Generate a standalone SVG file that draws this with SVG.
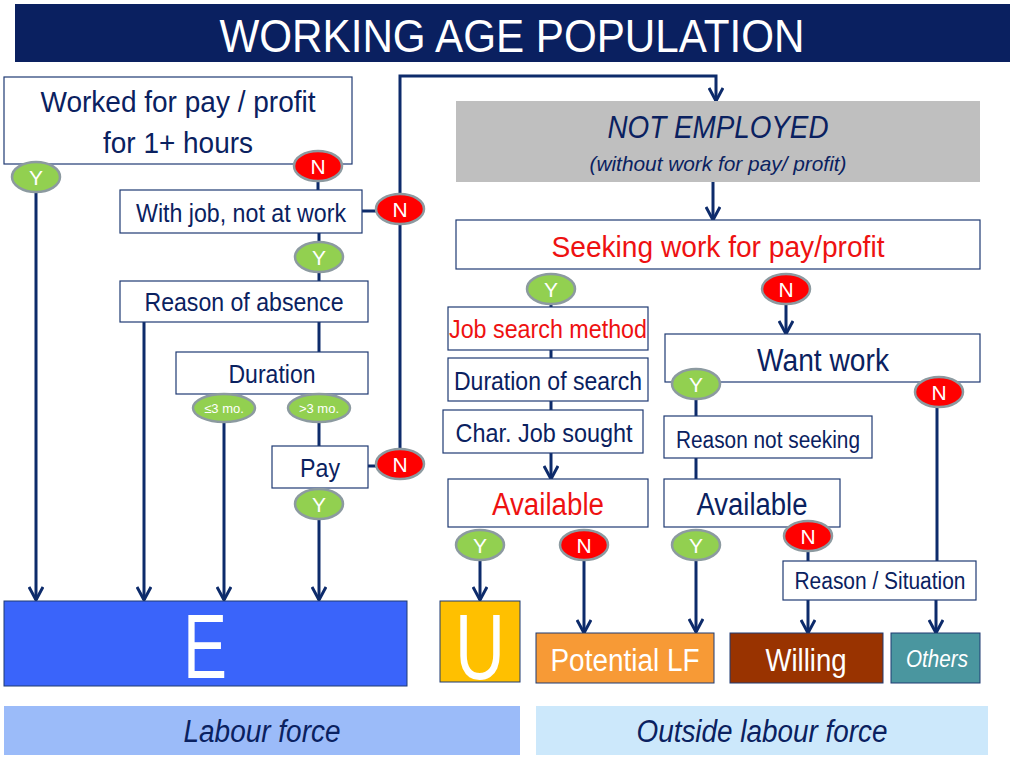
<svg xmlns="http://www.w3.org/2000/svg" width="1024" height="768" viewBox="0 0 1024 768">
<defs>
<marker id="arr" viewBox="0 0 16 16" refX="15" refY="8" markerWidth="16" markerHeight="16" orient="auto" markerUnits="userSpaceOnUse">
<path d="M2,1 L15,8 L2,15" fill="none" stroke="#0d2b6b" stroke-width="3"/>
</marker>
<style>
text{font-family:"Liberation Sans Narrow","Liberation Sans",Arial,sans-serif;text-anchor:middle}
.box{fill:#fff;stroke:#1f3a73;stroke-width:1.2}
.t{fill:#0a2160}
.r{fill:#ee1111}
.w{fill:#fff}
.it{font-style:italic}
.yes{fill:#92d050;stroke:#8c9aa0;stroke-width:2.5}
.no{fill:#ff0000;stroke:#8c9aa0;stroke-width:2.5}
.yn{fill:#fff;font-size:21px}
.ln{fill:none;stroke:#0d2b6b;stroke-width:3}
.ar{fill:none;stroke:#0d2b6b;stroke-width:3;marker-end:url(#arr)}
</style>
</defs>
<rect width="1024" height="768" fill="#fff"/>

<g id="title">
<rect x="15" y="4" width="995" height="58" fill="#0a2060"/>
<text x="512" y="52" class="w" font-size="46" textLength="585" lengthAdjust="spacingAndGlyphs">WORKING AGE POPULATION</text>
</g>

<g id="connectors">
<line class="ar" x1="36" y1="193" x2="36" y2="600"/>
<line class="ln" x1="318" y1="181" x2="318" y2="190"/>
<line class="ln" x1="362" y1="211" x2="376" y2="211"/>
<line class="ln" x1="319" y1="233" x2="319" y2="242"/>
<line class="ln" x1="319" y1="272" x2="319" y2="281"/>
<line class="ar" x1="144" y1="322" x2="144" y2="600"/>
<line class="ln" x1="319" y1="322" x2="319" y2="352"/>
<line class="ar" x1="224" y1="422" x2="224" y2="600"/>
<line class="ln" x1="319" y1="422" x2="319" y2="446"/>
<line class="ln" x1="368" y1="466" x2="376" y2="466"/>
<line class="ar" x1="319" y1="519" x2="319" y2="600"/>
<polyline class="ar" points="400,449 400,76 716,76 716,101"/>
<line class="ar" x1="713" y1="182" x2="713" y2="220"/>
<line class="ln" x1="551" y1="304" x2="551" y2="307"/>
<line class="ln" x1="551" y1="350" x2="551" y2="358"/>
<line class="ln" x1="551" y1="401" x2="551" y2="410"/>
<line class="ar" x1="551" y1="453" x2="551" y2="479"/>
<line class="ar" x1="480" y1="560" x2="480" y2="600"/>
<line class="ar" x1="584" y1="560" x2="584" y2="633"/>
<line class="ar" x1="786" y1="304" x2="786" y2="334"/>
<line class="ln" x1="696" y1="399" x2="696" y2="416"/>
<line class="ln" x1="696" y1="458" x2="696" y2="479"/>
<line class="ar" x1="696" y1="560" x2="696" y2="632"/>
<line class="ln" x1="808" y1="552" x2="808" y2="561"/>
<line class="ln" x1="937" y1="407" x2="937" y2="561"/>
<line class="ar" x1="808" y1="600" x2="808" y2="633"/>
<line class="ar" x1="936" y1="600" x2="936" y2="633"/>
</g>

<g id="worked">
<rect class="box" x="4" y="77" width="348" height="87"/>
<text class="t" x="178" y="112" font-size="30" textLength="275" lengthAdjust="spacingAndGlyphs">Worked for pay / profit</text>
<text class="t" x="178" y="153" font-size="30" textLength="150" lengthAdjust="spacingAndGlyphs">for 1+ hours</text>
</g>
<g id="y1"><ellipse class="yes" cx="36" cy="177" rx="24" ry="15"/><text class="yn" x="36" y="185">Y</text></g>
<g id="n1"><ellipse class="no" cx="318" cy="166" rx="24" ry="15"/><text class="yn" x="318" y="174">N</text></g>

<g id="withjob">
<rect class="box" x="120" y="190" width="242" height="43"/>
<text class="t" x="241" y="222" font-size="26" textLength="210" lengthAdjust="spacingAndGlyphs">With job, not at work</text>
</g>
<g id="n2"><ellipse class="no" cx="400" cy="209" rx="24" ry="15"/><text class="yn" x="400" y="217">N</text></g>
<g id="y2"><ellipse class="yes" cx="319" cy="257" rx="24" ry="15"/><text class="yn" x="319" y="265">Y</text></g>

<g id="reason">
<rect class="box" x="120" y="281" width="248" height="41"/>
<text class="t" x="244" y="311" font-size="26" textLength="199" lengthAdjust="spacingAndGlyphs">Reason of absence</text>
</g>

<g id="duration">
<rect class="box" x="176" y="352" width="192" height="42"/>
<text class="t" x="272" y="383" font-size="26" textLength="87" lengthAdjust="spacingAndGlyphs">Duration</text>
</g>
<g id="le3"><ellipse class="yes" cx="224" cy="408" rx="31" ry="14"/><text class="w" x="224" y="413" font-size="13">≤3 mo.</text></g>
<g id="gt3"><ellipse class="yes" cx="319" cy="408" rx="31" ry="14"/><text class="w" x="319" y="413" font-size="13">&gt;3 mo.</text></g>

<g id="pay">
<rect class="box" x="272" y="446" width="96" height="42"/>
<text class="t" x="320" y="477" font-size="26" textLength="40" lengthAdjust="spacingAndGlyphs">Pay</text>
</g>
<g id="n3"><ellipse class="no" cx="400" cy="464" rx="24" ry="15"/><text class="yn" x="400" y="472">N</text></g>
<g id="y3"><ellipse class="yes" cx="319" cy="504" rx="24" ry="15"/><text class="yn" x="319" y="512">Y</text></g>

<g id="notemployed">
<rect x="456" y="101" width="524" height="81" fill="#bfbfbf"/>
<text class="t it" x="718" y="138" font-size="31" textLength="221" lengthAdjust="spacingAndGlyphs">NOT EMPLOYED</text>
<text class="t it" x="718" y="171" font-size="21" textLength="257" lengthAdjust="spacingAndGlyphs">(without work for pay/ profit)</text>
</g>

<g id="seeking">
<rect class="box" x="456" y="220" width="524" height="49"/>
<text class="r" x="718" y="257" font-size="30" textLength="333" lengthAdjust="spacingAndGlyphs">Seeking work for pay/profit</text>
</g>
<g id="y4"><ellipse class="yes" cx="551" cy="289" rx="24" ry="15"/><text class="yn" x="551" y="297">Y</text></g>
<g id="n4"><ellipse class="no" cx="786" cy="289" rx="24" ry="15"/><text class="yn" x="786" y="297">N</text></g>

<g id="jobsearch">
<rect class="box" x="448" y="307" width="200" height="43"/>
<text class="r" x="548" y="338" font-size="26" textLength="198" lengthAdjust="spacingAndGlyphs">Job search method</text>
</g>
<g id="durationsearch">
<rect class="box" x="448" y="358" width="200" height="43"/>
<text class="t" x="548" y="390" font-size="26" textLength="188" lengthAdjust="spacingAndGlyphs">Duration of search</text>
</g>
<g id="charjob">
<rect class="box" x="443" y="410" width="200" height="43"/>
<text class="t" x="544" y="442" font-size="26" textLength="177" lengthAdjust="spacingAndGlyphs">Char. Job sought</text>
</g>

<g id="available1">
<rect class="box" x="448" y="479" width="200" height="48"/>
<text class="r" x="548" y="515" font-size="31" textLength="112" lengthAdjust="spacingAndGlyphs">Available</text>
</g>
<g id="y5"><ellipse class="yes" cx="480" cy="545" rx="24" ry="15"/><text class="yn" x="480" y="553">Y</text></g>
<g id="n5"><ellipse class="no" cx="584" cy="545" rx="24" ry="15"/><text class="yn" x="584" y="553">N</text></g>

<g id="wantwork">
<rect class="box" x="665" y="334" width="315" height="48"/>
<text class="t" x="823" y="371" font-size="31" textLength="132" lengthAdjust="spacingAndGlyphs">Want work</text>
</g>
<g id="y6"><ellipse class="yes" cx="696" cy="384" rx="24" ry="15"/><text class="yn" x="696" y="392">Y</text></g>
<g id="n6"><ellipse class="no" cx="939" cy="392" rx="24" ry="15"/><text class="yn" x="939" y="400">N</text></g>

<g id="reasonnot">
<rect class="box" x="664" y="416" width="208" height="42"/>
<text class="t" x="768" y="448" font-size="23" textLength="184" lengthAdjust="spacingAndGlyphs">Reason not seeking</text>
</g>

<g id="available2">
<rect class="box" x="664" y="479" width="176" height="48"/>
<text class="t" x="752" y="515" font-size="31" textLength="111" lengthAdjust="spacingAndGlyphs">Available</text>
</g>
<g id="y7"><ellipse class="yes" cx="696" cy="545" rx="24" ry="15"/><text class="yn" x="696" y="553">Y</text></g>
<g id="n7"><ellipse class="no" cx="808" cy="536" rx="24" ry="15"/><text class="yn" x="808" y="544">N</text></g>

<g id="reasonsit">
<rect class="box" x="783" y="561" width="193" height="39"/>
<text class="t" x="880" y="589" font-size="23" textLength="171" lengthAdjust="spacingAndGlyphs">Reason / Situation</text>
</g>

<g id="E">
<rect x="4" y="601" width="403" height="85" fill="#3a64fa" stroke="#1f3a73" stroke-width="1"/>
<text class="w" x="205" y="678" font-size="90" textLength="44" lengthAdjust="spacingAndGlyphs">E</text>
</g>
<g id="U">
<rect x="440" y="601" width="80" height="81" fill="#ffc000" stroke="#1f3a73" stroke-width="1"/>
<text class="w" x="480" y="679" font-size="92" textLength="50" lengthAdjust="spacingAndGlyphs">U</text>
</g>
<g id="potential">
<rect x="536" y="633" width="178" height="50" fill="#f79a36" stroke="#1f3a73" stroke-width="1"/>
<text class="w" x="625" y="671" font-size="31" textLength="149" lengthAdjust="spacingAndGlyphs">Potential LF</text>
</g>
<g id="willing">
<rect x="730" y="633" width="153" height="50" fill="#993300" stroke="#1f3a73" stroke-width="1"/>
<text class="w" x="806" y="671" font-size="31" textLength="81" lengthAdjust="spacingAndGlyphs">Willing</text>
</g>
<g id="others">
<rect x="891" y="633" width="89" height="50" fill="#4a969f" stroke="#1f3a73" stroke-width="1"/>
<text class="w it" x="937" y="667" font-size="23" textLength="62" lengthAdjust="spacingAndGlyphs">Others</text>
</g>

<g id="labourforce">
<rect x="4" y="706" width="516" height="49" fill="#9bbbf9"/>
<text class="t it" x="262" y="742" font-size="31" textLength="157" lengthAdjust="spacingAndGlyphs">Labour force</text>
</g>
<g id="outside">
<rect x="536" y="706" width="452" height="49" fill="#cce8fb"/>
<text class="t it" x="762" y="742" font-size="31" textLength="251" lengthAdjust="spacingAndGlyphs">Outside labour force</text>
</g>
</svg>
